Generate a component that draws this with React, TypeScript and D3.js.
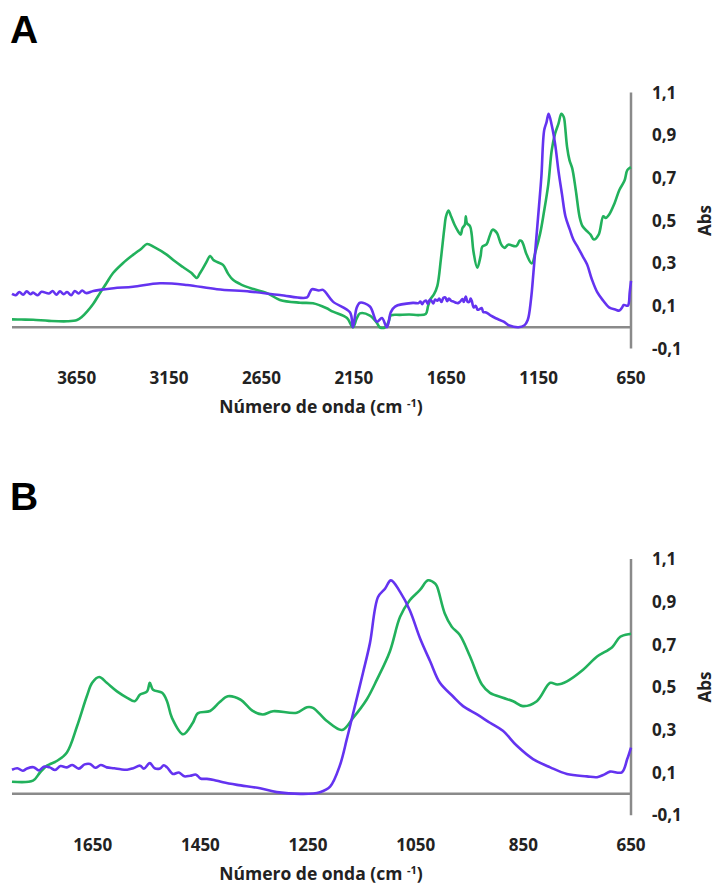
import React from 'react';
import * as d3 from 'd3';

// spectrum 1 (green)
const greenWavenumber = [
  4000, 3950, 3886, 3800, 3702, 3648, 3620, 3594, 3560, 3524, 3490, 3453, 3400, 3345, 3300, 3269,
  3230, 3161, 3120, 3075, 3030, 2999, 2985, 2966, 2945, 2928, 2910, 2891, 2858, 2830, 2804, 2760,
  2712, 2620, 2550, 2441, 2371, 2300, 2263, 2187, 2155, 2135, 2117, 2063, 2025, 2010, 1980, 1960,
  1950, 1900, 1850, 1800, 1761, 1748, 1735, 1716, 1698, 1679, 1661, 1651, 1638, 1624, 1605, 1586,
  1572, 1562, 1549, 1544, 1538, 1521, 1512, 1503, 1482, 1464, 1455, 1432, 1414, 1399, 1376, 1352,
  1334, 1315, 1271, 1252, 1241, 1215, 1187, 1166, 1141, 1122, 1098, 1079, 1061, 1042, 1027, 1014,
  1010, 996, 983, 968, 949, 927, 912, 888, 869, 851, 825, 800, 787, 769, 739, 713, 685, 670, 652, 650,
];
const greenAbs = [
  0.037, 0.036, 0.035, 0.03, 0.028, 0.034, 0.05, 0.073, 0.11, 0.16, 0.205, 0.254, 0.3, 0.339, 0.368, 0.39,
  0.375, 0.339, 0.31, 0.282, 0.255, 0.231, 0.25, 0.277, 0.31, 0.334, 0.315, 0.306, 0.292, 0.25, 0.222, 0.2,
  0.184, 0.16, 0.128, 0.115, 0.112, 0.09, 0.073, 0.043, 0.0, 0.04, 0.065, 0.055, 0.02, 0.0, 0.0, 0.03,
  0.055, 0.058, 0.06, 0.057, 0.062, 0.1, 0.132, 0.155, 0.194, 0.318, 0.457, 0.52, 0.547, 0.52, 0.48, 0.45,
  0.434, 0.465, 0.48, 0.52, 0.488, 0.473, 0.434, 0.357, 0.279, 0.333, 0.377, 0.388, 0.43, 0.457, 0.442, 0.387,
  0.372, 0.387, 0.38, 0.406, 0.403, 0.341, 0.299, 0.357, 0.442, 0.535, 0.667, 0.829, 0.907, 0.955, 1.0, 0.985,
  0.969, 0.845, 0.783, 0.744, 0.643, 0.512, 0.473, 0.45, 0.434, 0.411, 0.434, 0.52, 0.512, 0.527, 0.581, 0.643, 0.687, 0.736, 0.749, 0.75,
];

// spectrum 2 (purple)
const purpleWavenumber = [
  4000, 3980, 3960, 3940, 3920, 3900, 3886, 3860, 3840, 3800, 3780, 3760, 3740, 3720, 3702, 3680,
  3660, 3640, 3620, 3600, 3560, 3524, 3450, 3345, 3199, 3053, 2891, 2712, 2550, 2403, 2390, 2376,
  2340, 2317, 2263, 2171, 2155, 2135, 2117, 2063, 2025, 1998, 1971, 1950, 1927, 1830, 1800, 1790,
  1780, 1772, 1760, 1750, 1740, 1730, 1720, 1710, 1698, 1688, 1676, 1665, 1655, 1645, 1635, 1624,
  1610, 1598, 1586, 1575, 1562, 1555, 1544, 1535, 1525, 1518, 1512, 1501, 1490, 1480, 1469, 1458,
  1450, 1438, 1425, 1408, 1382, 1339, 1308, 1259, 1228, 1209, 1191, 1178, 1166, 1148, 1135, 1120,
  1107, 1096, 1079, 1061, 1042, 1023, 1005, 981, 962, 936, 912, 888, 862, 832, 800, 769, 732, 713,
  700, 689, 667, 657, 650,
];
const purpleAbs = [
  0.156, 0.15, 0.165, 0.152, 0.168, 0.155, 0.162, 0.15, 0.166, 0.158, 0.17, 0.152, 0.168, 0.155, 0.165, 0.15,
  0.17, 0.158, 0.172, 0.16, 0.17, 0.175, 0.183, 0.19, 0.206, 0.198, 0.178, 0.167, 0.151, 0.14, 0.16, 0.178,
  0.172, 0.175, 0.12, 0.07, 0.0, 0.09, 0.115, 0.097, 0.026, 0.043, 0.0, 0.07, 0.097, 0.114, 0.113, 0.12,
  0.108, 0.119, 0.125, 0.11, 0.128, 0.124, 0.112, 0.13, 0.124, 0.135, 0.118, 0.138, 0.14, 0.122, 0.135, 0.124,
  0.12, 0.115, 0.113, 0.12, 0.132, 0.118, 0.144, 0.12, 0.119, 0.134, 0.124, 0.093, 0.1, 0.082, 0.085, 0.09,
  0.072, 0.07, 0.065, 0.054, 0.042, 0.026, 0.008, 0.0, 0.008, 0.034, 0.132, 0.256, 0.38, 0.566, 0.706, 0.922,
  0.961, 1.0, 0.946, 0.86, 0.729, 0.62, 0.52, 0.457, 0.411, 0.372, 0.333, 0.295, 0.225, 0.163, 0.124, 0.093, 0.082, 0.078,
  0.09, 0.104, 0.101, 0.163, 0.217,
];

const yTicks = [-0.1, 0.1, 0.3, 0.5, 0.7, 0.9, 1.1];
const xTicksA = [3650, 3150, 2650, 2150, 1650, 1150, 650];
const xTicksB = [1650, 1450, 1250, 1050, 850, 650];

const FONT = "'Open Sans', 'Liberation Sans', Arial, sans-serif";
const GREEN = '#22b15c';
const PURPLE = '#6433f0';
const AXIS = '#8a8a8a';

type Pt = [number, number];

function Panel({ letter, xMax, ticks, top }: { letter: string; xMax: number; ticks: number[]; top: number }) {
  const x = d3.scaleLinear().domain([xMax, 650]).range([12, 631]);
  const y = d3.scaleLinear().domain([-0.1, 1.1]).range([top + 256.2, top]);

  const green: Pt[] = greenWavenumber.map((w, i) => [w, greenAbs[i]] as Pt).filter(d => d[0] <= xMax);
  const purple: Pt[] = purpleWavenumber.map((w, i) => [w, purpleAbs[i]] as Pt).filter(d => d[0] <= xMax);
  const line = d3.line<Pt>().x(d => x(d[0])).y(d => y(d[1])).curve(d3.curveCatmullRom.alpha(0.5));

  const y0 = y(0);
  const fmt = (v: number) => v.toFixed(1).replace('.', ',');

  return (
    <g>
      <text x={10} y={top - 49} fontFamily="'Liberation Sans', Arial, sans-serif" fontWeight="bold" fontSize={39}>
        {letter}
      </text>
      <line x1={12} x2={631} y1={y0} y2={y0} stroke={AXIS} strokeWidth={2.5} />
      <line x1={631} x2={631} y1={y(-0.1)} y2={y(1.1)} stroke={AXIS} strokeWidth={2.5} />
      <path d={line(green) || ''} fill="none" stroke={GREEN} strokeWidth={2.6} strokeLinejoin="round" />
      <path d={line(purple) || ''} fill="none" stroke={PURPLE} strokeWidth={2.6} strokeLinejoin="round" />
      {yTicks.map(t => (
        <text key={t} x={652} y={y(t)} dy="0.36em" fontFamily={FONT} fontWeight="bold" fontSize={17} fill="#222">
          {fmt(t)}
        </text>
      ))}
      {ticks.map(t => (
        <text key={t} x={x(t)} y={y0 + 57} textAnchor="middle" fontFamily={FONT} fontWeight="bold" fontSize={17} fill="#222">
          {t}
        </text>
      ))}
      <text x={321} y={y0 + 86} textAnchor="middle" fontFamily={FONT} fontWeight="bold" fontSize={17.5} fill="#222">
        Número de onda (cm <tspan dy={-6} fontSize={11}>-1</tspan>
        <tspan dy={6}>)</tspan>
      </text>
      <text
        transform={`translate(711, ${y(0.5)}) rotate(-90)`}
        textAnchor="middle"
        fontFamily={FONT}
        fontWeight="bold"
        fontSize={17}
        fill="#222"
      >
        Abs
      </text>
    </g>
  );
}

export default function App() {
  return (
    <svg width={716} height={887} style={{ position: 'absolute', left: 0, top: 0, background: '#fff' }}>
      <rect width={716} height={887} fill="#fff" />
      <Panel letter="A" xMax={4000} ticks={xTicksA} top={92.4} />
      <Panel letter="B" xMax={1800} ticks={xTicksB} top={559} />
    </svg>
  );
}
